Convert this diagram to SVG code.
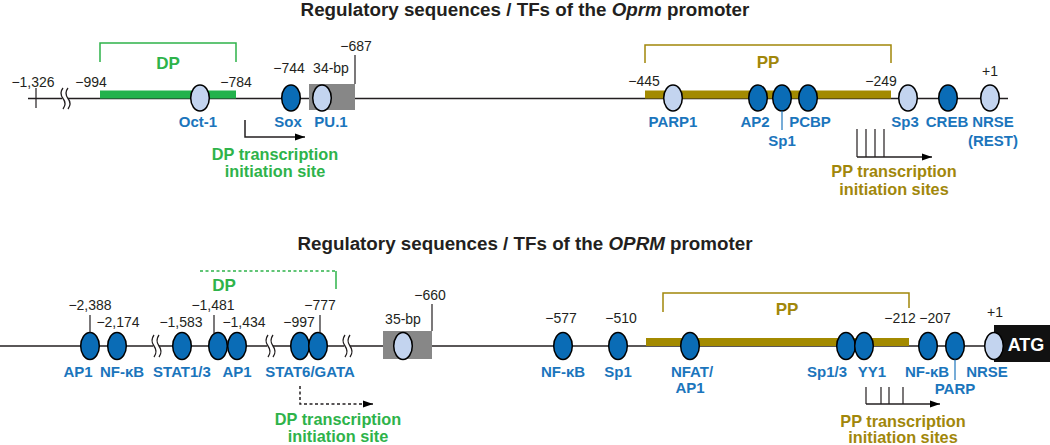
<svg xmlns="http://www.w3.org/2000/svg" width="1050" height="445" viewBox="0 0 1050 445">
<defs>
<marker id="arr" viewBox="0 0 10 10" refX="10" refY="5" markerWidth="10" markerHeight="10" markerUnits="userSpaceOnUse" orient="auto">
<path d="M0,1.5 L10,5 L0,8.5 Z" fill="#000"/>
</marker>
<style>
text{font-family:"Liberation Sans",Arial,sans-serif;}
.title{font-size:18.8px;font-weight:bold;fill:#231f20;text-anchor:middle;}
.num{font-size:14px;fill:#231f20;text-anchor:middle;}
.lbl{font-size:15px;font-weight:bold;fill:#1b75bc;text-anchor:middle;}
.grn{font-size:16.3px;font-weight:bold;fill:#2eb34a;text-anchor:middle;}
.olv{font-size:16.3px;font-weight:bold;fill:#a1870a;text-anchor:middle;}
.big{font-size:17px;}
.dk{fill:#0a6cb6;stroke:#000;stroke-width:1.5;}
.lt{fill:#c3d4ef;stroke:#000;stroke-width:1.5;}
.ln{stroke:#231f20;stroke-width:1.5;fill:none;}
.tk{stroke:#231f20;stroke-width:1.2;fill:none;}
.bl{stroke:#1b75bc;stroke-width:1.2;fill:none;}
.brk{stroke:#231f20;stroke-width:1.3;fill:none;}
</style>
</defs>

<!-- ================= TOP: Oprm ================= -->
<text class="title" x="525" y="16">Regulatory sequences / TFs of the <tspan font-style="italic">Oprm</tspan> promoter</text>

<g id="top-backbone">
<line class="ln" x1="28" y1="98.5" x2="1008" y2="98.5"/>
<line class="tk" x1="36" y1="88" x2="36" y2="108"/>
<rect x="62" y="95" width="6" height="8" fill="#fff"/>
<path class="brk" d="M63,88 q-4,5 0,10.5 q4,5 0,10.5"/>
<path class="brk" d="M68,88 q-4,5 0,10.5 q4,5 0,10.5"/>
<text class="num" x="33" y="87">−1,326</text>
</g>

<g id="top-DP">
<path d="M100,62 V43 H236 V62" stroke="#2eb34a" stroke-width="1.5" fill="none"/>
<text class="grn big" x="168" y="69">DP</text>
<rect x="100" y="90.5" width="136" height="8" fill="#22b24c"/>
<text class="num" x="91" y="87">−994</text>
<text class="num" x="236" y="87">−784</text>
</g>

<g id="top-Oct1">
<ellipse class="lt" cx="200" cy="98" rx="9.3" ry="13"/>
<text class="lbl" x="198" y="127">Oct-1</text>
</g>

<g id="top-Sox">
<ellipse class="dk" cx="291" cy="98" rx="9.3" ry="13"/>
<text class="num" x="289" y="73">−744</text>
<text class="lbl" x="288" y="127">Sox</text>
</g>

<g id="top-PU1">
<rect x="309" y="84" width="46" height="26" fill="#878787"/>
<ellipse class="lt" cx="322" cy="98" rx="9.3" ry="13"/>
<line class="tk" x1="355" y1="55" x2="355" y2="84"/>
<text class="num" x="331" y="73">34-bp</text>
<text class="num" x="356" y="51">−687</text>
<text class="lbl" x="331" y="127">PU.1</text>
</g>

<g id="top-DP-tss">
<path class="ln" d="M245,120 V137 H305" marker-end="url(#arr)" stroke-width="1.3"/>
<text class="grn" x="275" y="160">DP transcription</text>
<text class="grn" x="275" y="177">initiation site</text>
</g>

<g id="top-PP">
<path d="M645,63 V45 H891 V63" stroke="#a1870a" stroke-width="1.5" fill="none"/>
<text class="olv big" x="768" y="68">PP</text>
<rect x="645" y="90.5" width="246" height="8" fill="#a38a00"/>
<text class="num" x="644" y="86">−445</text>
<text class="num" x="881" y="86">−249</text>
</g>

<g id="top-PARP1">
<ellipse class="lt" cx="673" cy="98" rx="9.3" ry="13"/>
<text class="lbl" x="673" y="127">PARP1</text>
</g>
<g id="top-AP2">
<ellipse class="dk" cx="758" cy="98" rx="9.3" ry="13"/>
<text class="lbl" x="755" y="127">AP2</text>
</g>
<g id="top-Sp1">
<ellipse class="dk" cx="782" cy="98" rx="9.3" ry="13"/>
<line class="bl" x1="782" y1="111" x2="782" y2="130"/>
<text class="lbl" x="782" y="146">Sp1</text>
</g>
<g id="top-PCBP">
<ellipse class="dk" cx="808" cy="98" rx="9.3" ry="13"/>
<text class="lbl" x="810" y="127">PCBP</text>
</g>
<g id="top-Sp3">
<ellipse class="lt" cx="908" cy="98" rx="9.3" ry="13"/>
<text class="lbl" x="905" y="127">Sp3</text>
</g>
<g id="top-CREB">
<ellipse class="dk" cx="948" cy="98" rx="9.3" ry="13"/>
<text class="lbl" x="947" y="127">CREB</text>
</g>
<g id="top-NRSE">
<ellipse class="lt" cx="990" cy="98" rx="9.3" ry="13"/>
<text class="num" x="990" y="76">+1</text>
<text class="lbl" x="993" y="127">NRSE</text>
<text class="lbl" x="993" y="146">(REST)</text>
</g>

<g id="top-PP-tss">
<path class="tk" d="M857,129 V157 M866,129 V157 M875,129 V157 M884,129 V157"/>
<path class="ln" d="M857,157 H932" marker-end="url(#arr)" stroke-width="1.3"/>
<text class="olv" x="894" y="177">PP transcription</text>
<text class="olv" x="894" y="195">initiation sites</text>
</g>

<!-- ================= BOTTOM: OPRM ================= -->
<text class="title" x="525" y="250">Regulatory sequences / TFs of the <tspan font-style="italic">OPRM</tspan> promoter</text>

<g id="bottom-backbone">
<line class="ln" x1="0" y1="346" x2="994" y2="346"/>
<rect x="153" y="342" width="6" height="8" fill="#fff"/>
<path class="brk" d="M154,335 q-4,5.5 0,11 q4,5.5 0,11"/>
<path class="brk" d="M159,335 q-4,5.5 0,11 q4,5.5 0,11"/>
<rect x="267" y="342" width="6" height="8" fill="#fff"/>
<path class="brk" d="M268,335 q-4,5.5 0,11 q4,5.5 0,11"/>
<path class="brk" d="M273,335 q-4,5.5 0,11 q4,5.5 0,11"/>
<rect x="344" y="342" width="6" height="8" fill="#fff"/>
<path class="brk" d="M345,335 q-4,5.5 0,11 q4,5.5 0,11"/>
<path class="brk" d="M350,335 q-4,5.5 0,11 q4,5.5 0,11"/>
</g>

<g id="bottom-DP">
<path d="M200,271 H336" stroke="#2eb34a" stroke-width="1.5" stroke-dasharray="3,2.5" fill="none"/>
<path d="M336,271 V289" stroke="#2eb34a" stroke-width="1.5" fill="none"/>
<text class="grn big" x="224" y="291">DP</text>
</g>

<g id="bottom-AP1a">
<ellipse class="dk" cx="90" cy="346" rx="9.3" ry="13.5"/>
<line class="tk" x1="90" y1="315" x2="90" y2="332.5"/>
<text class="num" x="90" y="310">−2,388</text>
<text class="lbl" x="78" y="377">AP1</text>
</g>
<g id="bottom-NFkB1">
<ellipse class="dk" cx="117" cy="346" rx="9.3" ry="13.5"/>
<text class="num" x="118" y="327">−2,174</text>
<text class="lbl" x="122" y="377">NF-κB</text>
</g>
<g id="bottom-STAT13">
<ellipse class="dk" cx="182" cy="346" rx="9.3" ry="13.5"/>
<text class="num" x="181" y="327">−1,583</text>
<text class="lbl" x="182" y="377">STAT1/3</text>
</g>
<g id="bottom-AP1b">
<ellipse class="dk" cx="218" cy="346" rx="9.3" ry="13.5"/>
<ellipse class="dk" cx="237" cy="346" rx="9.3" ry="13.5"/>
<line class="tk" x1="214" y1="315" x2="214" y2="333"/>
<text class="num" x="213" y="310">−1,481</text>
<text class="num" x="244" y="327">−1,434</text>
<text class="lbl" x="237" y="377">AP1</text>
</g>
<g id="bottom-STAT6">
<ellipse class="dk" cx="300" cy="346" rx="9.3" ry="13.5"/>
<ellipse class="dk" cx="318" cy="346" rx="9.3" ry="13.5"/>
<line class="tk" x1="320" y1="315" x2="320" y2="333"/>
<text class="num" x="299" y="327">−997</text>
<text class="num" x="320" y="310">−777</text>
<text class="lbl" x="310" y="377">STAT6/GATA</text>
</g>

<g id="bottom-DP-tss">
<path d="M300,386 V404 H373" stroke="#231f20" stroke-width="1.5" stroke-dasharray="3,2.5" fill="none" marker-end="url(#arr)"/>
<text class="grn" x="338" y="425">DP transcription</text>
<text class="grn" x="338" y="442">initiation site</text>
</g>

<g id="bottom-35bp">
<rect x="383" y="331" width="49" height="28" fill="#878787"/>
<ellipse class="lt" cx="403" cy="346" rx="9.3" ry="13.5"/>
<line class="tk" x1="432" y1="304" x2="432" y2="331"/>
<text class="num" x="430" y="300">−660</text>
<text class="num" x="403" y="324">35-bp</text>
</g>

<g id="bottom-NFkB2">
<ellipse class="dk" cx="563" cy="346" rx="9.3" ry="13.5"/>
<text class="num" x="561" y="323">−577</text>
<text class="lbl" x="563" y="377">NF-κB</text>
</g>
<g id="bottom-Sp1">
<ellipse class="dk" cx="618" cy="346" rx="9.3" ry="13.5"/>
<text class="num" x="621" y="323">−510</text>
<text class="lbl" x="618" y="377">Sp1</text>
</g>

<g id="bottom-PP">
<path d="M663,312 V293 H909 V308" stroke="#a1870a" stroke-width="1.5" fill="none"/>
<text class="olv big" x="787" y="315">PP</text>
<rect x="646" y="338" width="263" height="8" fill="#a38a00"/>
<text class="num" x="900" y="323">−212</text>
</g>

<g id="bottom-NFAT">
<ellipse class="dk" cx="690" cy="346" rx="9.3" ry="13.5"/>
<text class="lbl" x="692" y="377">NFAT/</text>
<text class="lbl" x="690" y="393">AP1</text>
</g>
<g id="bottom-Sp13">
<ellipse class="dk" cx="846" cy="346" rx="9.3" ry="13.5"/>
<text class="lbl" x="827" y="377">Sp1/3</text>
</g>
<g id="bottom-YY1">
<ellipse class="dk" cx="864" cy="346" rx="9.3" ry="13.5"/>
<text class="lbl" x="872" y="377">YY1</text>
</g>
<g id="bottom-NFkB3">
<ellipse class="dk" cx="928" cy="346" rx="9.3" ry="13.5"/>
<text class="num" x="935" y="323">−207</text>
<text class="lbl" x="927" y="377">NF-κB</text>
</g>
<g id="bottom-PARP">
<ellipse class="dk" cx="955" cy="346" rx="9.3" ry="13.5"/>
<line class="bl" x1="955" y1="359.5" x2="955" y2="380"/>
<text class="lbl" x="955" y="394">PARP</text>
</g>

<g id="bottom-ATG">
<rect x="994" y="325" width="56" height="37" fill="#111"/>
<text x="1026" y="351" font-size="18" font-weight="bold" fill="#fff" text-anchor="middle">ATG</text>
</g>
<g id="bottom-NRSE">
<ellipse class="lt" cx="994" cy="346" rx="9.3" ry="13.5"/>
<text class="num" x="995" y="317">+1</text>
<text class="lbl" x="987" y="377">NRSE</text>
</g>

<g id="bottom-PP-tss">
<path class="tk" d="M866,387 V404 M881,387 V404 M889,387 V404 M903,387 V404"/>
<path class="ln" d="M866,404 H940" marker-end="url(#arr)" stroke-width="1.3"/>
<text class="olv" x="903" y="427">PP transcription</text>
<text class="olv" x="903" y="443">initiation sites</text>
</g>
</svg>
